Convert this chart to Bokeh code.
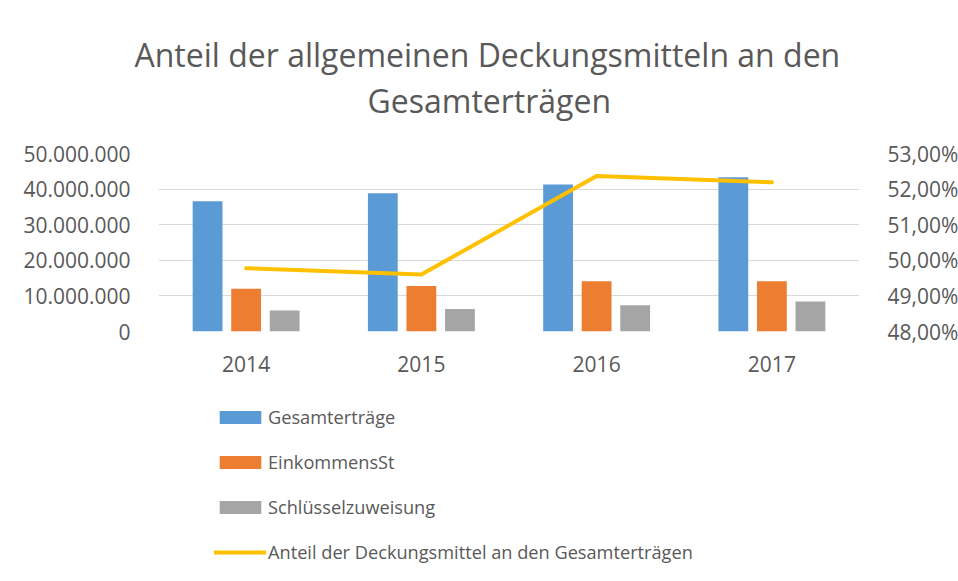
from bokeh.plotting import figure
from bokeh.layouts import column
from bokeh.models import (FactorRange, Range1d, LinearAxis, FixedTicker, CustomJSTickFormatter,
                          Legend, LegendItem, Title, ColumnDataSource)
from bokeh.transform import dodge
from bokeh.embed import file_html
from bokeh.resources import INLINE

years = ["2014", "2015", "2016", "2017"]
gesamtertraege = [36.6e6, 38.8e6, 41.3e6, 43.3e6]
einkommensst = [12.0e6, 12.8e6, 14.1e6, 14.1e6]
schluesselzuweisung = [5.9e6, 6.3e6, 7.4e6, 8.4e6]
anteil = [49.78, 49.60, 52.37, 52.19]
left_ticks = [0, 10e6, 20e6, 30e6, 40e6, 50e6]
right_ticks = [48, 49, 50, 51, 52, 53]
series_names = ["Gesamterträge", "EinkommensSt", "Schlüsselzuweisung",
                "Anteil der Deckungsmittel an den Gesamterträgen"]
series_colors = ["#5b9bd5", "#ed7d31", "#a5a5a5", "#ffc000"]

FONT = "Open Sans"
TXT = "#595959"

src = ColumnDataSource(dict(years=years, g=gesamtertraege, e=einkommensst, s=schluesselzuweisung, a=anteil))
xr = FactorRange(*years, range_padding=0)

p = figure(x_range=xr, y_range=Range1d(0, 50e6),
           frame_width=701, frame_height=178,
           min_border_left=158, min_border_right=95, min_border_top=153, min_border_bottom=60,
           output_backend="svg", toolbar_location=None, tools="")
p.extra_y_ranges = {"pct": Range1d(48, 53)}

p.outline_line_color = None
p.background_fill_color = "white"
p.border_fill_color = "white"


def add_series(fig, **kw):
    a = fig.vbar(x=dodge("years", -0.22, range=xr), top="g", width=0.17, source=src,
                 fill_color=series_colors[0], line_color=None)
    b = fig.vbar(x=dodge("years", 0.0, range=xr), top="e", width=0.17, source=src,
                 fill_color=series_colors[1], line_color=None)
    c = fig.vbar(x=dodge("years", 0.22, range=xr), top="s", width=0.17, source=src,
                 fill_color=series_colors[2], line_color=None)
    d = fig.line(x="years", y="a", source=src, line_color=series_colors[3],
                 line_width=4, line_cap="round", line_join="round", **kw)
    return [a, b, c, d]


add_series(p, y_range_name="pct")

# axes
for ax in [p.xaxis[0], p.yaxis[0]]:
    ax.axis_line_color = None
    ax.major_tick_line_color = None
    ax.minor_tick_line_color = None
    ax.major_label_text_font = FONT
    ax.major_label_text_font_size = "21px"
    ax.major_label_text_color = TXT
p.xaxis.major_label_standoff = 18
p.yaxis[0].ticker = FixedTicker(ticks=left_ticks)
p.yaxis[0].major_label_standoff = 22
p.yaxis[0].formatter = CustomJSTickFormatter(
    code="return Math.round(tick).toString().replace(/\\B(?=(\\d{3})+(?!\\d))/g, '.');")

ry = LinearAxis(y_range_name="pct", ticker=FixedTicker(ticks=right_ticks),
                formatter=CustomJSTickFormatter(code="return tick.toFixed(2).replace('.', ',') + '%';"))
ry.axis_line_color = None
ry.major_tick_line_color = None
ry.minor_tick_line_color = None
ry.major_label_text_font = FONT
ry.major_label_text_font_size = "21px"
ry.major_label_text_color = TXT
ry.major_label_standoff = 22
p.add_layout(ry, "right")

p.xgrid.grid_line_color = None
p.ygrid.grid_line_color = "#d9d9d9"
p.ygrid.grid_line_width = 1
p.ygrid.ticker = FixedTicker(ticks=left_ticks)

# titles (line 2 first so it sits closer to the plot)
t2 = Title(text="Gesamterträgen", align="left", text_font=FONT, text_font_size="32px",
           text_font_style="normal", text_color=TXT, offset=209, standoff=64)
try:
    t1 = Title(text="Anteil der allgemeinen Deckungsmitteln an den", align="left", text_font=FONT,
               text_font_size="32px", text_font_style="normal", text_color=TXT, offset=-24, standoff=-62)
except Exception:
    t1 = Title(text="Anteil der allgemeinen Deckungsmitteln an den", align="left", text_font=FONT,
               text_font_size="32px", text_font_style="normal", text_color=TXT, offset=-24, standoff=0)
p.add_layout(t2, "above")
p.add_layout(t1, "above")

# legend in its own strip below the chart (same series, hidden there; only the legend shows)
lf = figure(width=954, height=184, x_range=xr, y_range=Range1d(-100e6, -50e6),
            x_axis_type=None, y_axis_type=None, min_border=0,
            output_backend="svg", toolbar_location=None, tools="")
lf.outline_line_color = None
lf.grid.visible = False
lrs = add_series(lf)
for r in lrs:
    r.visible = False

legend = Legend(items=[LegendItem(label=n, renderers=[r]) for n, r in zip(series_names, lrs)],
                orientation="vertical", location=(56, 11))
legend.glyph_width = 52
legend.glyph_height = 16
legend.label_height = 20
legend.label_standoff = 2
legend.label_text_font = FONT
legend.label_text_font_size = "18.2px"
legend.label_text_color = TXT
legend.spacing = 21
legend.padding = 0
legend.margin = 0
legend.border_line_color = None
legend.background_fill_alpha = 0
lf.add_layout(legend, "center")

layout = column(p, lf, spacing=0)
open("out.html", "w").write(file_html(layout, INLINE))
